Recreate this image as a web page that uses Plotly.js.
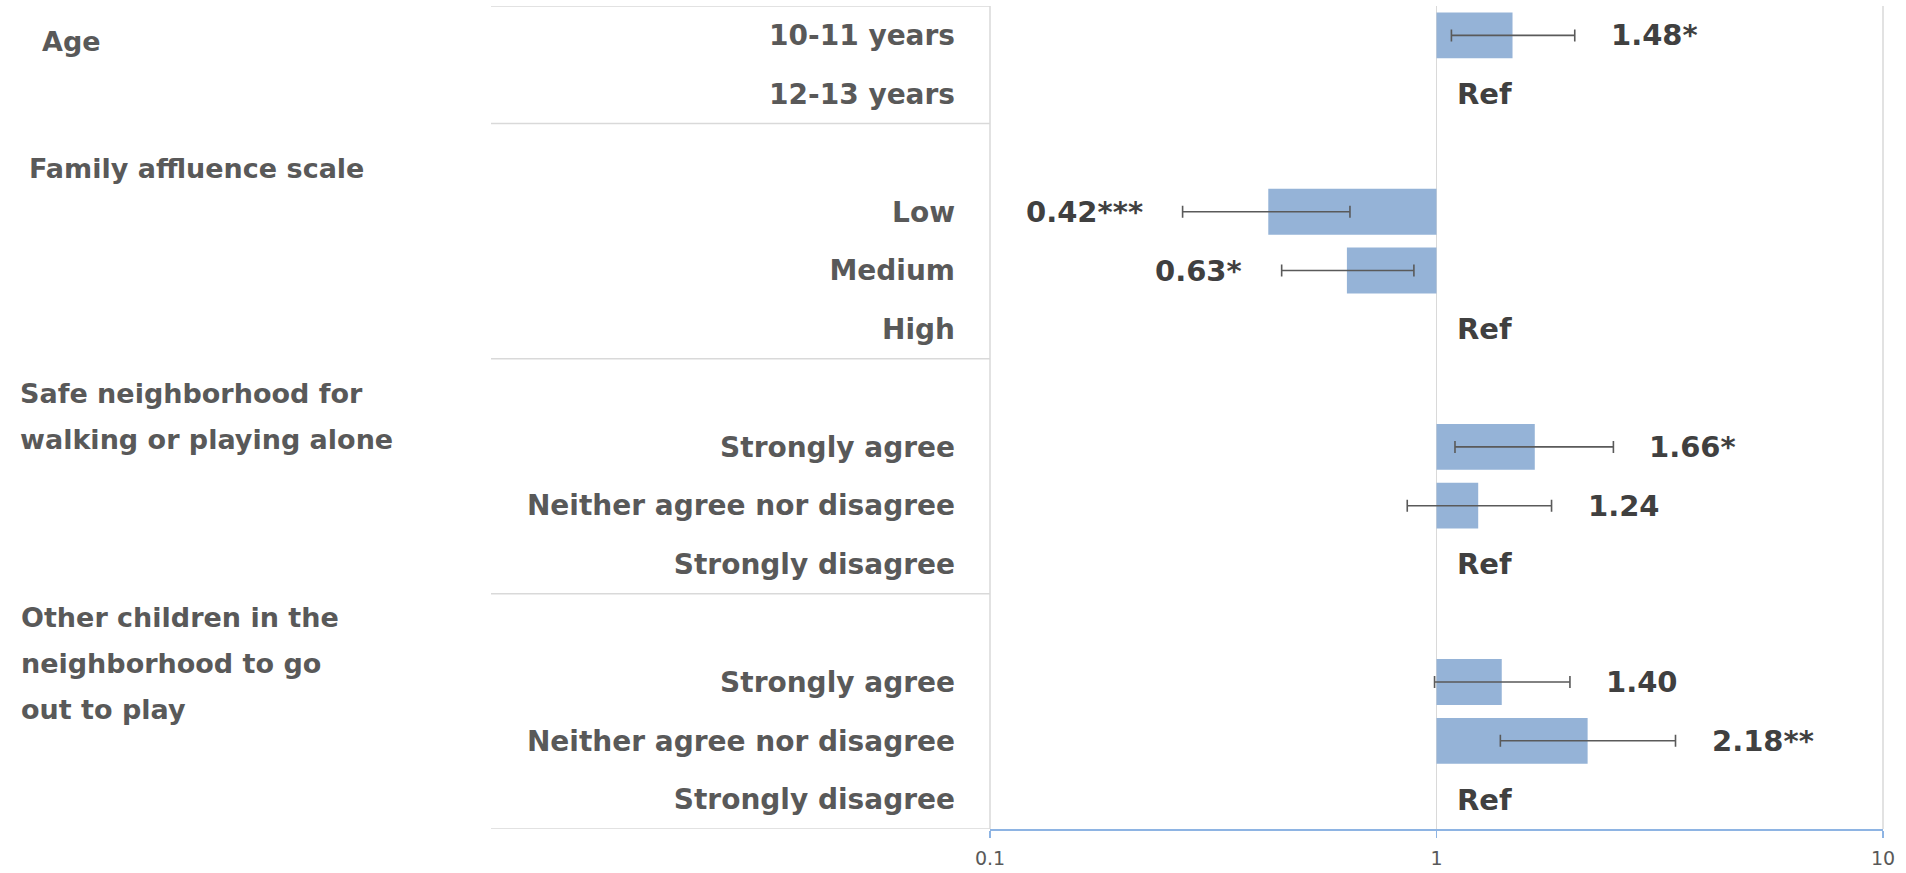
<!DOCTYPE html>
<html>
<head>
<meta charset="utf-8">
<script src="https://cdn.plot.ly/plotly-3.0.1.min.js"></script>
<style>
  html, body { margin: 0; padding: 0; background: #ffffff; }
  #chart { width: 1906px; height: 873px; }
</style>
</head>
<body>
<div id="chart"></div>
<script>
// ---------------- data ----------------
const rowLabels = ['10-11 years', '12-13 years', '', 'Low', 'Medium', 'High', '',
  'Strongly agree', 'Neither agree nor disagree', 'Strongly disagree', '',
  'Strongly agree', 'Neither agree nor disagree', 'Strongly disagree'];
const oddsRatio = [1.48, null, null, 0.42, 0.63, null, null, 1.66, 1.24, null, null, 1.40, 2.18, null];
const ciLower   = [1.08, null, null, 0.27, 0.45, null, null, 1.10, 0.86, null, null, 0.99, 1.39, null];
const ciUpper   = [2.04, null, null, 0.64, 0.89, null, null, 2.49, 1.81, null, null, 1.99, 3.43, null];
const valueLabels = ['1.48*', 'Ref', '', '0.42***', '0.63*', 'Ref', '', '1.66*', '1.24', 'Ref', '', '1.40', '2.18**', 'Ref'];
const groupHeaders = [
  ['Age'],
  ['Family affluence scale'],
  ['Safe neighborhood for', 'walking or playing alone'],
  ['Other children in the', 'neighborhood to go', 'out to play']
];
const groupRowCounts = [2, 4, 4, 4];
const xTickValues = [0.1, 1, 10];
const xTickLabels = ['0.1', '1', '10'];

// ---------------- layout constants (pixels) ----------------
const W = 1906, H = 873;
const M = { l: 990, r: 23, t: 6, b: 44 };
const plotW = W - M.l - M.r, plotH = H - M.t - M.b;
const px2paperX = px => (px - M.l) / plotW;
const px2paperY = py => (H - M.b - py) / plotH;
// header first-line pixel positions (left x, vertical centre) and line step
const headerPos = [[40, 41], [27, 168], [18, 393], [19, 617]];
const headerLineStep = 46;
const labelFont = 'DejaVu Sans, Verdana, sans-serif';
const gridColor = '#d9d9d9';

const rows = rowLabels.map((_, i) => i);
const ref = 1;

const barTrace = {
  type: 'bar',
  orientation: 'h',
  y: rows,
  x: oddsRatio.map(v => v == null ? null : v - ref),
  base: ref,
  marker: { color: '#95b3d7', line: { width: 0 } },
  error_x: {
    type: 'data',
    symmetric: false,
    array: oddsRatio.map((v, i) => v == null ? null : ciUpper[i] - v),
    arrayminus: oddsRatio.map((v, i) => v == null ? null : v - ciLower[i]),
    color: '#5a5a5a',
    thickness: 1.6,
    width: 6
  },
  hoverinfo: 'skip',
  showlegend: false
};

const annotations = [];
// value labels
valueLabels.forEach((t, i) => {
  if (!t) return;
  const v = oddsRatio[i];
  let x, xanchor, xshift;
  if (v == null) { x = Math.log10(ref); xanchor = 'left'; xshift = 18; }
  else if (v >= ref) { x = Math.log10(ciUpper[i]); xanchor = 'left'; xshift = 34; }
  else { x = Math.log10(ciLower[i]); xanchor = 'right'; xshift = -38; }
  annotations.push({
    xref: 'x', yref: 'y', x: x, y: i, text: '<b>' + t + '</b>',
    xanchor: xanchor, yanchor: 'middle', xshift: xshift, showarrow: false,
    font: { family: labelFont, size: 29, color: '#404040' }
  });
});
// group headers
groupHeaders.forEach((lines, g) => {
  lines.forEach((line, k) => {
    annotations.push({
      xref: 'paper', yref: 'paper',
      x: px2paperX(headerPos[g][0]),
      y: px2paperY(headerPos[g][1] + k * headerLineStep),
      text: '<b>' + line + '</b>', xanchor: 'left', yanchor: 'middle', showarrow: false,
      font: { family: labelFont, size: 27, color: '#595959' }
    });
  });
});

// separators in category label area at group boundaries
const shapes = [];
let boundary = -0.5;
const boundaries = [boundary];
groupRowCounts.forEach(n => { boundary += n; boundaries.push(boundary); });
boundaries.forEach(b => {
  shapes.push({
    type: 'line', xref: 'paper', yref: 'y', x0: px2paperX(491), x1: 0, y0: b, y1: b,
    line: { color: gridColor, width: 1.5 }, layer: 'below'
  });
});
// vertical gridlines at the two range edges (Plotly clips grid at the ends)
[0, 1].forEach(px => {
  shapes.push({
    type: 'line', xref: 'paper', yref: 'paper', x0: px, x1: px, y0: 0, y1: 1,
    line: { color: gridColor, width: 1.5 }, layer: 'below'
  });
});

const layout = {
  width: W, height: H,
  margin: M,
  paper_bgcolor: '#ffffff', plot_bgcolor: '#ffffff',
  bargap: 0.22,
  showlegend: false,
  xaxis: {
    type: 'log',
    range: [-1, 1],
    tickvals: xTickValues,
    ticktext: xTickLabels,
    showgrid: true, gridcolor: gridColor, gridwidth: 1.5,
    showline: true, linecolor: '#8eb4e3', linewidth: 1.5,
    ticks: 'outside', ticklen: 7, tickcolor: '#8eb4e3', tickwidth: 1.5,
    ticklabelstandoff: 5,
    tickfont: { family: labelFont, size: 19, color: '#595959' },
    zeroline: false, fixedrange: true
  },
  yaxis: {
    type: 'linear',
    range: [rowLabels.length - 0.5, -0.5],
    tickvals: rows,
    ticktext: rowLabels.map(t => t ? '<b>' + t + '</b>' : ''),
    tickfont: { family: labelFont, size: 28, color: '#595959' },
    showgrid: false, zeroline: false, showline: false,
    ticks: '', ticklabelstandoff: 34, fixedrange: true
  },
  annotations: annotations,
  shapes: shapes
};

Plotly.newPlot('chart', [barTrace], layout, { displayModeBar: false, staticPlot: true });
</script>
</body>
</html>
